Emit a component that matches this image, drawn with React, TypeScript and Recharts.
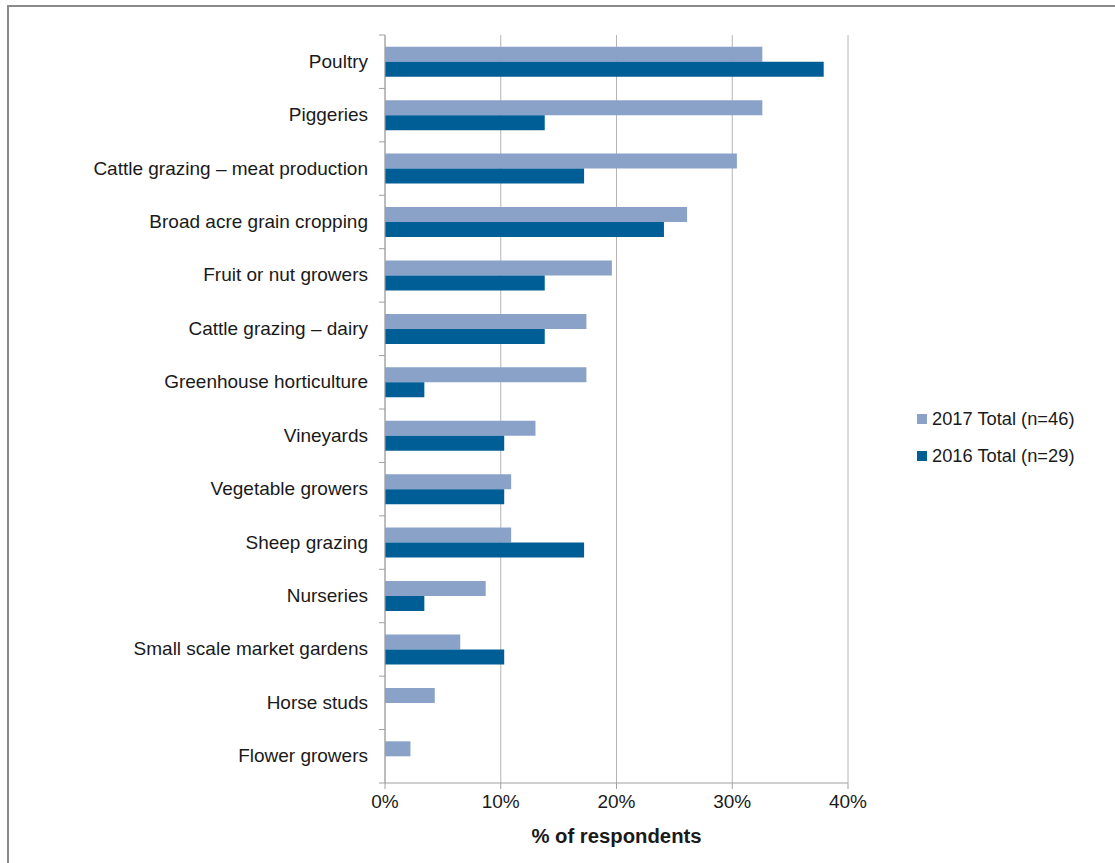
import React from "react";
import {
  BarChart,
  Bar,
  XAxis,
  YAxis,
  CartesianGrid,
  Legend,
} from "recharts";

const categories = [
  "Poultry",
  "Piggeries",
  "Cattle grazing – meat production",
  "Broad acre grain cropping",
  "Fruit or nut growers",
  "Cattle grazing – dairy",
  "Greenhouse horticulture",
  "Vineyards",
  "Vegetable growers",
  "Sheep grazing",
  "Nurseries",
  "Small scale market gardens",
  "Horse studs",
  "Flower growers",
];

const total2017 = [32.6, 32.6, 30.4, 26.1, 19.6, 17.4, 17.4, 13.0, 10.9, 10.9, 8.7, 6.5, 4.3, 2.2];
const total2016 = [37.9, 13.8, 17.2, 24.1, 13.8, 13.8, 3.4, 10.3, 10.3, 17.2, 3.4, 10.3, 0, 0];

const xTicks = [0, 10, 20, 30, 40];
const seriesOrder = ["y2017", "y2016"];

const data = categories.map((name, i) => ({
  name,
  y2017: total2017[i],
  y2016: total2016[i],
}));

const FONT = "'Liberation Sans', Arial, sans-serif";
const AXIS = "#a0a0a0";
const PLOT_TOP = 35;
const PLOT_BOTTOM = 783;
const BAND = (PLOT_BOTTOM - PLOT_TOP) / categories.length;

// category label plus an Excel-style tick mark between categories
const CategoryTick = (props: any) => {
  const { x, y, payload, index } = props;
  const lx = x + 11;
  return (
    <g>
      <line x1={lx} x2={lx + 6} y1={y - BAND / 2} y2={y - BAND / 2} stroke={AXIS} />
      {index === categories.length - 1 && (
        <line x1={lx} x2={lx + 6} y1={y + BAND / 2} y2={y + BAND / 2} stroke={AXIS} />
      )}
      <text x={x} y={y} dy={6} textAnchor="end" fill="#1a1a1a" fontSize={19} fontFamily={FONT}>
        {payload.value}
      </text>
    </g>
  );
};

const LegendBox = (props: any) => {
  const items = [...props.payload].sort(
    (a: any, b: any) => seriesOrder.indexOf(a.dataKey) - seriesOrder.indexOf(b.dataKey)
  );
  // zero-height wrapper so the legend does not shrink the plot
  return (
    <div style={{ height: 0, overflow: "visible" }}>
      <div style={{ fontFamily: FONT, fontSize: 18.3, color: "#1a1a1a" }}>
        {items.map((p: any) => (
          <div key={p.value} style={{ display: "flex", alignItems: "center", height: 37 }}>
            <span style={{ width: 10, height: 10, background: p.color, marginRight: 5 }} />
            {p.value}
          </div>
        ))}
      </div>
    </div>
  );
};

export default function App() {
  return (
    <div style={{ position: "absolute", left: 0, top: 0, width: 1115, height: 863, background: "#fff" }}>
      <div
        style={{
          position: "absolute",
          left: 7,
          top: 5,
          width: 1115,
          height: 870,
          borderLeft: "2px solid #8a8a8a",
          borderTop: "2px solid #8a8a8a",
        }}
      />
      <div style={{ position: "absolute", left: 0, top: 0 }}>
        <BarChart
          width={1115}
          height={863}
          data={data}
          layout="vertical"
          margin={{ top: PLOT_TOP, right: 267, bottom: 0, left: 0 }}
          barCategoryGap="22%"
          barGap={0}
        >
          <CartesianGrid horizontal={false} stroke="#b4b4b4" />
          <XAxis
            type="number"
            domain={[0, 40]}
            ticks={xTicks}
            tickFormatter={(v) => `${v}%`}
            stroke={AXIS}
            tickSize={6}
            tickMargin={6}
            height={80}
            tick={{ fill: "#1a1a1a", fontSize: 19, fontFamily: FONT }}
            label={{
              value: "% of respondents",
              position: "insideTop",
              offset: 46,
              style: { fill: "#1a1a1a", fontSize: 20.3, fontWeight: "bold", fontFamily: FONT },
            }}
          />
          <YAxis
            type="category"
            dataKey="name"
            width={385}
            stroke={AXIS}
            tickLine={false}
            tickSize={6}
            tickMargin={11}
            interval={0}
            tick={<CategoryTick />}
          />
          <Legend
            layout="vertical"
            content={<LegendBox />}
            wrapperStyle={{ left: 917, top: 400, width: 190 }}
          />
          <Bar dataKey="y2017" name="2017 Total (n=46)" fill="#8aa2c8" isAnimationActive={false} />
          <Bar dataKey="y2016" name="2016 Total (n=29)" fill="#005e96" isAnimationActive={false} />
        </BarChart>
      </div>
    </div>
  );
}
